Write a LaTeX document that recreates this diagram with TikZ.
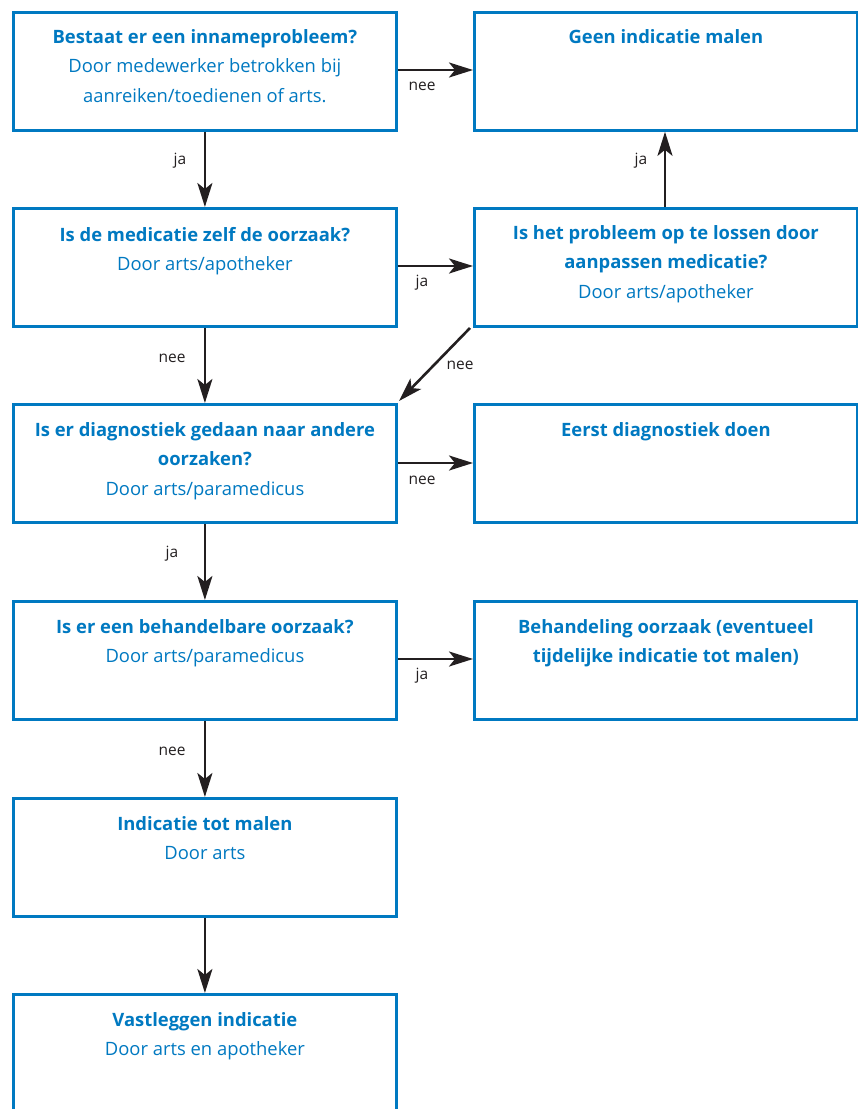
\documentclass[tikz,border=0pt]{standalone}
\usepackage{fontspec}
\setmainfont{Open Sans}
\usetikzlibrary{arrows.meta}
\definecolor{fblue}{RGB}{0,121,193}
\definecolor{flabel}{RGB}{35,31,32}
\tikzset{
  fbox/.style={draw=fblue, line width=2.8pt, minimum width=383pt, minimum height=118pt, anchor=north west, inner sep=0pt},
  ftext/.style={anchor=north, align=center, text=fblue, font=\fontsize{18.4}{29.5}\selectfont, inner sep=0pt},
  farrow/.style={draw=flabel, line width=2.6pt, -{Stealth[length=24pt,width=15pt,inset=6pt]}},
  flab/.style={text=flabel, font=\fontsize{15.5}{18}\selectfont, inner sep=0pt}
}
\begin{document}
\begin{tikzpicture}[x=1pt,y=-1pt]
\clip (0,0) rectangle (858,1109);
\fill[white] (0,0) rectangle (858,1109);
% left column
\node[fbox] (b1) at (12,11) {};
\node[fbox] (b2) at (12,207) {};
\node[fbox] (b3) at (12,403) {};
\node[fbox] (b4) at (12,600) {};
\node[fbox] (b5) at (12,797) {};
\node[fbox, minimum height=130pt] (b6) at (12,993) {};
% right column
\node[fbox] (r1) at (473,11) {};
\node[fbox] (r2) at (473,207) {};
\node[fbox] (r3) at (473,403) {};
\node[fbox] (r4) at (473,600) {};
% texts
\node[ftext] (t1) at ([yshift=-18pt]b1.north) {\textbf{Bestaat er een innameprobleem?}\\Door medewerker betrokken bij\\aanreiken/toedienen of arts.};
\node[ftext] (t2) at ([yshift=-20pt]b2.north) {\textbf{Is de medicatie zelf de oorzaak?}\\Door arts/apotheker};
\node[ftext] (t3) at ([yshift=-19pt]b3.north) {\textbf{Is er diagnostiek gedaan naar andere}\\\textbf{oorzaken?}\\Door arts/paramedicus};
\node[ftext] (t4) at ([yshift=-19pt]b4.north) {\textbf{Is er een behandelbare oorzaak?}\\Door arts/paramedicus};
\node[ftext] (t5) at ([yshift=-19pt]b5.north) {\textbf{Indicatie tot malen}\\Door arts};
\node[ftext] (t6) at ([yshift=-19pt]b6.north) {\textbf{Vastleggen indicatie}\\Door arts en apotheker};
\node[ftext] (u1) at ([yshift=-18pt]r1.north) {\textbf{Geen indicatie malen}};
\node[ftext] (u2) at ([yshift=-18pt]r2.north) {\textbf{Is het probleem op te lossen door}\\\textbf{aanpassen medicatie?}\\Door arts/apotheker};
\node[ftext] (u3) at ([yshift=-19pt]r3.north) {\textbf{Eerst diagnostiek doen}};
\node[ftext] (u4) at ([yshift=-19pt]r4.north) {\textbf{Behandeling oorzaak (eventueel}\\\textbf{tijdelijke indicatie tot malen)}};
% horizontal arrows
\draw[farrow] (b1.east |- 0,70) -- (r1.west |- 0,70);
\draw[farrow] (b2.east |- 0,266) -- (r2.west |- 0,266);
\draw[farrow] (b3.east |- 0,463) -- (r3.west |- 0,463);
\draw[farrow] (b4.east |- 0,659) -- (r4.west |- 0,659);
\node[flab] (l1) at (422,86) {nee};
\node[flab] (l2) at (422,283) {ja};
\node[flab] (l3) at (422,480) {nee};
\node[flab] (l4) at (422,676) {ja};
% vertical arrows
\draw[farrow] (b1.south) -- (b2.north);
\draw[farrow] (b2.south) -- (b3.north);
\draw[farrow] (b3.south) -- (b4.north);
\draw[farrow] (b4.south) -- (b5.north);
\draw[farrow] (b5.south) -- (b6.north);
\node[flab] (l5) at (180,161) {ja};
\node[flab] (l6) at (172,358) {nee};
\node[flab] (l7) at (172,554) {ja};
\node[flab] (l8) at (172,751) {nee};
% up arrow
\draw[farrow] (r2.north -| 665,0) -- (r1.south -| 665,0);
\node[flab] (l9) at (641,161) {ja};
% diagonal
\coordinate (d1) at (470,328);
\coordinate (d2) at (399,401);
\draw[farrow] (d1) -- (d2);
\node[flab] (l10) at (460,365) {nee};
\end{tikzpicture}
\end{document}
